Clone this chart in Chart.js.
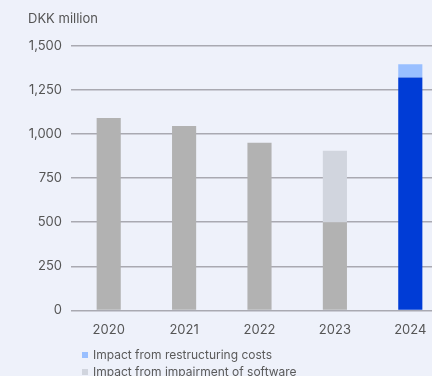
<!DOCTYPE html>
<html>
<head>
<meta charset="utf-8">
<script src="https://cdn.jsdelivr.net/npm/chart.js@4/dist/chart.umd.min.js"></script>
<style>
    html, body {
        margin: 0;
        padding: 0;
        background: #eef1fa;
        overflow: hidden;
        font-family: Inter, "Noto Sans", sans-serif;
    }
    #wrap {
        position: relative;
        width: 448px;
        height: 350px;
    }
    #legend {
        position: absolute;
        left: 82px;
        top: 346px;
        margin: 0;
        padding: 0;
        list-style: none;
        font-size: 12px;
        color: #5a5a5a;
    }
    #legend li {
        height: 17px;
        line-height: 17px;
        white-space: nowrap;
    }
    #legend .box {
        display: inline-block;
        width: 6px;
        height: 6px;
        margin-right: 5px;
        vertical-align: 1px;
    }
</style>
</head>
<body>
<div id="wrap"><canvas id="chart" width="448" height="350"></canvas></div>
<ul id="legend"></ul>
<script>
    var years = ['2020', '2021', '2022', '2023', '2024'];
    var baseValues = [1090, 1045, 950, 500, 1320];
    var impairmentValues = [0, 0, 0, 405, 0];
    var restructuringValues = [0, 0, 0, 0, 75];
    var yTicks = [0, 250, 500, 750, 1000, 1250, 1500];

    var GREY = '#b2b2b2';
    var BLUE = '#003cd6';

    var datasets = [
        {
            label: 'Reported',
            data: baseValues,
            backgroundColor: years.map(function(y) { return y === '2024' ? BLUE : GREY; }),
            inLegend: false
        },
        {
            label: 'Impact from impairment of software',
            data: impairmentValues,
            backgroundColor: '#d1d5de'
        },
        {
            label: 'Impact from restructuring costs',
            data: restructuringValues,
            backgroundColor: '#99bfff'
        }
    ];

    datasets.forEach(function(ds) {
        ds.barPercentage = 0.32;
        ds.categoryPercentage = 1;
        ds.borderWidth = 0;
    });

    new Chart(document.getElementById('chart'), {
        type: 'bar',
        data: {
            labels: years,
            datasets: datasets
        },
        options: {
            responsive: false,
            animation: false,
            layout: {
                padding: { left: 28, right: 0, top: 8, bottom: 0 }
            },
            plugins: {
                legend: { display: false },
                tooltip: { enabled: false },
                title: {
                    display: true,
                    text: 'DKK million',
                    align: 'start',
                    color: '#555',
                    font: { family: 'Inter', size: 13, weight: 'normal' },
                    padding: { top: 3, bottom: 19 }
                }
            },
            scales: {
                x: {
                    stacked: true,
                    grid: { display: false, drawTicks: false },
                    border: { display: false },
                    ticks: {
                        color: '#555',
                        padding: 12,
                        font: { family: 'Inter', size: 13 }
                    }
                },
                y: {
                    stacked: true,
                    min: 0,
                    max: 1500,
                    afterBuildTicks: function(scale) {
                        scale.ticks = yTicks.map(function(v) { return { value: v }; });
                    },
                    afterFit: function(scale) {
                        scale.width = 43;
                    },
                    grid: {
                        color: '#a9a9b1',
                        lineWidth: 1.5,
                        drawTicks: false
                    },
                    border: { display: false },
                    ticks: {
                        color: '#555',
                        padding: 9,
                        font: { family: 'Inter', size: 13 },
                        callback: function(v) {
                            return v.toString().replace(/\B(?=(\d{3})+(?!\d))/g, ',');
                        }
                    }
                }
            }
        }
    });

    // legend: restructuring first, then impairment
    var legend = document.getElementById('legend');
    datasets.slice().reverse().forEach(function(ds) {
        if (ds.inLegend === false) return;
        var li = document.createElement('li');
        var box = document.createElement('span');
        box.className = 'box';
        box.style.background = ds.backgroundColor;
        li.appendChild(box);
        li.appendChild(document.createTextNode(ds.label));
        legend.appendChild(li);
    });
</script>
</body>
</html>
